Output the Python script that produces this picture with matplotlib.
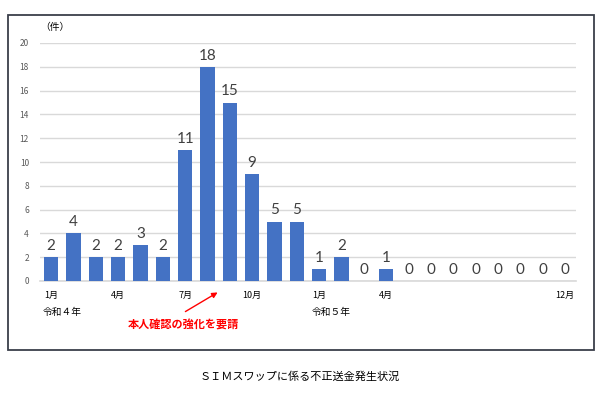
import matplotlib.pyplot as plt
from matplotlib.patches import Rectangle

plt.rcParams['font.family'] = ['Noto Sans CJK JP', 'DejaVu Sans']

months = list(range(24))  # 令和4年1月 .. 令和5年12月
counts = [2, 4, 2, 2, 3, 2, 11, 18, 15, 9, 5, 5,
          1, 2, 0, 1, 0, 0, 0, 0, 0, 0, 0, 0]
tick_pos = [0, 3, 6, 9, 12, 15, 23]
tick_labels = ['1月', '4月', '7月', '10月', '1月', '4月', '12月']

fig = plt.figure(figsize=(6.07, 3.94), dpi=100)

# outer frame
fig.patches.append(Rectangle((8/607, 1-350/394), (594-8)/607, (350-15)/394,
                             transform=fig.transFigure, fill=False,
                             edgecolor='#3a3f4a', linewidth=1.3))

ax = fig.add_axes([40/607, 1-281/394, (576-40)/607, (281-43)/394])
ax.bar(months, counts, width=0.63, color='#4472c4', zorder=3)
for x, v in zip(months, counts):
    ax.text(x, v + 0.35, str(v), ha='center', va='bottom',
            fontsize=11, color='#404040', family='Lato')

ax.set_xlim(-0.5, 23.5)
ax.set_ylim(0, 20)
ax.set_yticks(range(0, 21, 2))
ax.yaxis.grid(True, color='#d9d9d9', linewidth=1, zorder=0)
ax.axhline(0, color='#d9d9d9', linewidth=1.2, zorder=1, clip_on=False)
for s in ax.spines.values():
    s.set_visible(False)
ax.tick_params(axis='y', length=0, labelsize=6, labelcolor='#595959', pad=8)
ax.set_xticks(tick_pos)
ax.set_xticklabels(tick_labels, fontsize=6.5)
ax.tick_params(axis='x', length=0, pad=7)

fig.text(40/607, 1-27/394, '（件）', fontsize=7, va='center', ha='left')
fig.text(43/607, 1-312/394, '令和４年', fontsize=7, va='center', ha='left')
fig.text(312/607, 1-312/394, '令和５年', fontsize=7, va='center', ha='left')

ax.annotate('', xy=(220/607, 1-291/394), xytext=(183/607, 1-313/394),
            xycoords='figure fraction', textcoords='figure fraction',
            arrowprops=dict(arrowstyle='-|>', color='red', lw=1,
                            mutation_scale=8))
fig.text(183/607, 1-325/394, '本人確認の強化を要請', fontsize=8,
         color='red', fontweight='bold', va='center', ha='center')

fig.text(300/607, 1-377/394, 'ＳＩＭスワップに係る不正送金発生状況',
         fontsize=8, va='center', ha='center')

fig.savefig('out.png', dpi=100)
